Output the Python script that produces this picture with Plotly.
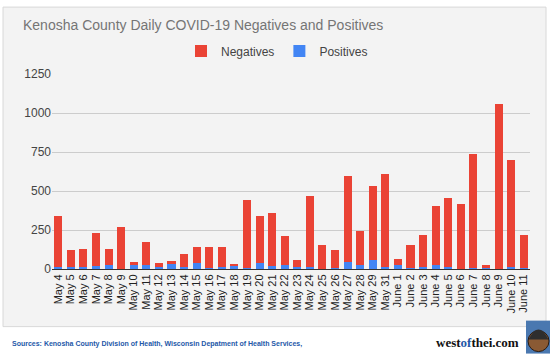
import plotly.graph_objects as go

dates = ["May 4", "May 5", "May 6", "May 7", "May 8", "May 9", "May 10", "May 11", "May 12",
         "May 13", "May 14", "May 15", "May 16", "May 17", "May 18", "May 19", "May 20", "May 21",
         "May 22", "May 23", "May 24", "May 25", "May 26", "May 27", "May 28", "May 29", "May 31",
         "June 1", "June 2", "June 3", "June 4", "June 5", "June 6", "June 7", "June 8", "June 9",
         "June 10", "June 11"]
positives = [10, 12, 12, 19, 23, 0, 28, 28, 12, 30, 10, 40, 7, 15, 18, 5, 37, 22,
             27, 15, 10, 2, 5, 45, 27, 55, 10, 23, 5, 10, 27, 10, 2, 5, 12, 2, 10, 5]
totals = [341, 119, 130, 231, 126, 271, 43, 175, 38, 49, 98, 143, 143, 143, 34, 442, 341, 359,
          209, 60, 470, 156, 119, 596, 243, 530, 606, 66, 156, 215, 401, 457, 419, 739, 23, 1055,
          696, 215]
negatives = [t - p for t, p in zip(totals, positives)]
y_ticks = [0, 250, 500, 750, 1000, 1250]

W, H = 550, 354
L, R, T, B = 52, 530, 74, 269.3

def px_x(x):
    return (x - L) / (R - L)

def px_y(y):
    return (B - y) / (B - T)

RED = "#ea4335"
BLUE = "#4285f4"
BG = "#f3f3f3"

fig = go.Figure()
fig.add_trace(go.Bar(x=dates, y=positives, name="Positives", marker_color=BLUE,
                     marker_line_width=0))
fig.add_trace(go.Bar(x=dates, y=negatives, name="Negatives", marker_color=RED,
                     marker_line_width=0))

fig.update_layout(
    width=W, height=H,
    barmode="stack", bargap=0.36,
    margin=dict(l=L, r=W - R, t=T, b=H - B, pad=0),
    paper_bgcolor="white", plot_bgcolor=BG,
    font=dict(family="Liberation Sans, Arial, sans-serif", color="#444"),
    showlegend=True,
    legend=dict(orientation="h", x=px_x(277), xanchor="center", y=px_y(51), yanchor="middle",
                font=dict(size=12, color="#444"), bgcolor="rgba(0,0,0,0)",
                traceorder="reversed", tracegroupgap=0, itemwidth=30),
    xaxis=dict(tickangle=-90, tickfont=dict(size=11, color="#222"), showgrid=False,
               tickmode="array", tickvals=dates, ticktext=dates,
               showline=True, linecolor="#333", linewidth=1, ticks="", fixedrange=True),
    yaxis=dict(range=[0, 1250], tickvals=y_ticks, tickfont=dict(size=12, color="#444"),
               gridcolor="#cccccc", gridwidth=1, zeroline=False, showline=False,
               ticks="", ticklen=0, fixedrange=True),
    shapes=[
        dict(type="rect", xref="paper", yref="paper", layer="below",
             x0=px_x(3), x1=px_x(546), y0=px_y(327), y1=px_y(7),
             fillcolor=BG, line=dict(color="#d8d8d8", width=1)),
        dict(type="rect", xref="paper", yref="paper", layer="above",
             x0=px_x(526), x1=px_x(550), y0=px_y(354), y1=px_y(321),
             fillcolor="#4a78b0", line=dict(width=0)),
        dict(type="circle", xref="paper", yref="paper", layer="above",
             x0=px_x(528), x1=px_x(549), y0=px_y(352), y1=px_y(331),
             fillcolor="#8a5a34", line=dict(color="#2a1a10", width=1)),
        dict(type="path", xref="paper", yref="paper", layer="above",
             path="M {:.4f},{:.4f} Q {:.4f},{:.4f} {:.4f},{:.4f} Z".format(
                 px_x(528.5), px_y(340), px_x(538.5), px_y(320), px_x(548.5), px_y(340)),
             fillcolor="#2e2e2e", line=dict(width=0)),
    ],
    annotations=[
        dict(text="Kenosha County Daily COVID-19 Negatives and Positives", xref="paper", yref="paper",
             x=px_x(21), y=px_y(25), xanchor="left", yanchor="middle", showarrow=False,
             font=dict(size=14, color="#757575")),
        dict(text="<b>Sources: Kenosha County Division of Health, Wisconsin Depatment of Health Services,</b>",
             xref="paper", yref="paper", x=px_x(10), y=px_y(344), xanchor="left", yanchor="middle",
             showarrow=False, font=dict(size=7, color="#2458a8")),
        dict(text="<b>west<span style='color:#2458a8'>of</span>thei.com</b>", xref="paper", yref="paper",
             x=px_x(521), y=px_y(343), xanchor="right", yanchor="middle", showarrow=False,
             font=dict(size=13, color="#111", family="Liberation Serif, serif")),
    ],
)

fig.write_html("out.html")
